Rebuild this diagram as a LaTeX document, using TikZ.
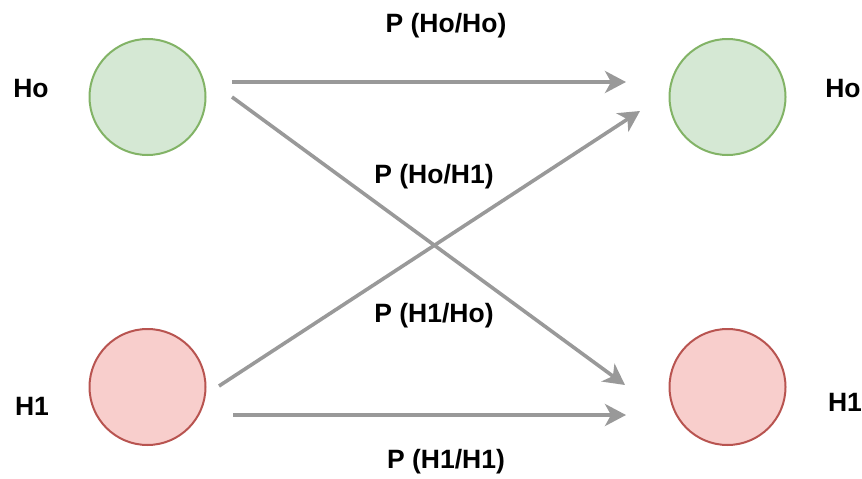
\documentclass[tikz,border=0pt]{standalone}
\usepackage{fontspec}
\setmainfont{Liberation Sans}
\usetikzlibrary{arrows.meta}
\definecolor{nullfill}{HTML}{D5E8D4}
\definecolor{nullline}{HTML}{82B366}
\definecolor{altfill}{HTML}{F8CECC}
\definecolor{altline}{HTML}{B85450}
\definecolor{arrowgray}{HTML}{999999}
\begin{document}
\begin{tikzpicture}[x=1pt,y=-1pt,
  state/.style={circle,minimum size=116pt,inner sep=0pt,line width=2pt},
  nullstate/.style={state,draw=nullline,fill=nullfill},
  altstate/.style={state,draw=altline,fill=altfill},
  lbl/.style={font=\fontsize{26.5}{31}\selectfont\bfseries,inner sep=0pt},
  prob/.style={font=\fontsize{26.5}{31}\selectfont\bfseries,inner sep=0pt},
  link/.style={draw=arrowgray,line width=3.6pt,-{Stealth[length=21pt,width=22pt,inset=6pt]}}]
\useasboundingbox (0,0) rectangle (862,479);
% hypothesis circles
\node[nullstate] (h0l) at (147.5,97) {};
\node[nullstate] (h0r) at (727.5,97) {};
\node[altstate] (h1l) at (147.5,387) {};
\node[altstate] (h1r) at (727.5,387) {};
% side labels
\node[lbl] (t0l) at (31,89) {Ho};
\node[lbl] (t0r) at (843,89) {Ho};
\node[lbl] (t1l) at (32,406) {H1};
\node[lbl] (t1r) at (845,402) {H1};
% arrow end points
\coordinate (a1s) at (232,82);  \coordinate (a1e) at (626,82);
\coordinate (a2s) at (232,97);  \coordinate (a2e) at (625,385);
\coordinate (a3s) at (219,386); \coordinate (a3e) at (640,111);
\coordinate (a4s) at (233,415); \coordinate (a4e) at (626,415);
\draw[link] (a1s) -- (a1e);
\draw[link] (a2s) -- (a2e);
\draw[link] (a3s) -- (a3e);
\draw[link] (a4s) -- (a4e);
% transition probabilities
\node[prob] (p00) at (446,26) {P (Ho/Ho)};
\node[prob] (p01) at (434,177) {P (Ho/H1)};
\node[prob] (p10) at (434,316) {P (H1/Ho)};
\node[prob] (p11) at (446,462) {P (H1/H1)};
\end{tikzpicture}
\end{document}
